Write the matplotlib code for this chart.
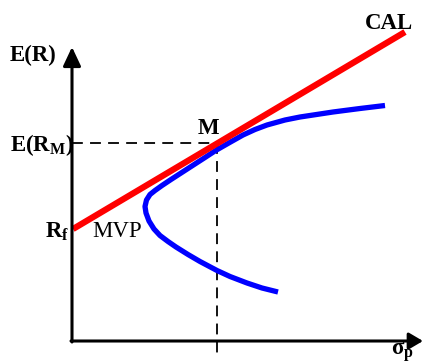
import matplotlib
matplotlib.use("Agg")
import matplotlib.pyplot as plt

plt.rcParams['font.family'] = ['Liberation Serif', 'DejaVu Serif']
plt.rcParams['mathtext.fontset'] = 'custom'
plt.rcParams['mathtext.rm'] = 'Liberation Serif'
plt.rcParams['mathtext.bf'] = 'Liberation Serif:bold'
plt.rcParams['mathtext.it'] = 'Liberation Serif:italic'

# ---- data (sigma_p, E(R)) in arbitrary units ----
frontier_sigma = [20.6, 19.0, 17.5, 15.8, 14.5, 12.8, 11.6, 10.4, 9.6, 8.8, 8.2, 7.7, 7.4,
                  7.3, 7.45, 7.8, 8.3, 9.0, 9.9, 11.6, 13.3, 14.4, 15.8, 17.1, 18.3,
                  19.5, 21.3, 22.8, 26.1, 28.8, 31.3]
frontier_er = [4.9, 5.3, 5.8, 6.45, 7.05, 7.95, 8.65, 9.4, 9.95, 10.55, 11.2, 12.0, 12.8,
               13.45, 14.1, 14.65, 15.05, 15.55, 16.15, 17.25, 18.35, 19.07, 19.87, 20.6,
               21.15, 21.6, 22.1, 22.4, 22.9, 23.25, 23.55]
cal_sigma = [0.1, 33.3]
cal_er = [11.2, 30.9]
sigma_m = 14.5
er_m = 19.8

fig = plt.figure(figsize=(4.23, 3.62), dpi=100)
ax = fig.add_axes([0, 0, 1, 1])
ax.set_xlim(-7.2, 35.1)
ax.set_ylim(-2.1, 34.1)
ax.axis('off')

# axes with arrows
ax.annotate('', xy=(0, 29.4), xytext=(0, -0.1),
            arrowprops=dict(arrowstyle='-|>,head_length=1.15,head_width=0.54',
                            mutation_scale=10, lw=2.2, color='black',
                            shrinkA=0, shrinkB=0))
ax.annotate('', xy=(35.1, 0), xytext=(-0.1, 0),
            arrowprops=dict(arrowstyle='-|>,head_length=0.85,head_width=0.5',
                            mutation_scale=10, lw=2.2, color='black',
                            shrinkA=0, shrinkB=0))

# dashed guides
ax.plot([0, sigma_m], [er_m, er_m], color='black', lw=1.3, dashes=(6, 4))
ax.plot([sigma_m, sigma_m], [er_m, -1.3], color='black', lw=1.3, dashes=(6, 4))

# frontier and CAL
ax.plot(frontier_sigma, frontier_er, color='#0000ff', lw=3.8, solid_joinstyle='round',
        solid_capstyle='butt')
ax.plot(cal_sigma, cal_er, color='#ff0000', lw=4.5, solid_capstyle='butt')

# labels
fs = 16.5
ax.text(-6.2, 28.0, 'E(R)', fontsize=fs, fontweight='bold', ha='left', va='baseline')
ax.text(-6.2, 19.0, r'$\mathbf{E(R_M)}$', fontsize=fs, ha='left', va='baseline')
ax.text(12.6, 20.7, 'M', fontsize=fs, fontweight='bold', ha='left', va='baseline')
ax.text(29.3, 31.2, 'CAL', fontsize=fs, fontweight='bold', ha='left', va='baseline')
ax.text(-2.7, 10.3, r'$\mathbf{R_f}$', fontsize=fs, ha='left', va='baseline')
ax.text(2.0, 10.4, 'MVP', fontsize=fs, ha='left', va='baseline')
ax.text(31.9, -1.4, r'$\mathbf{σ_p}$', fontsize=fs, ha='left', va='baseline')

fig.savefig('out.png', dpi=100)
